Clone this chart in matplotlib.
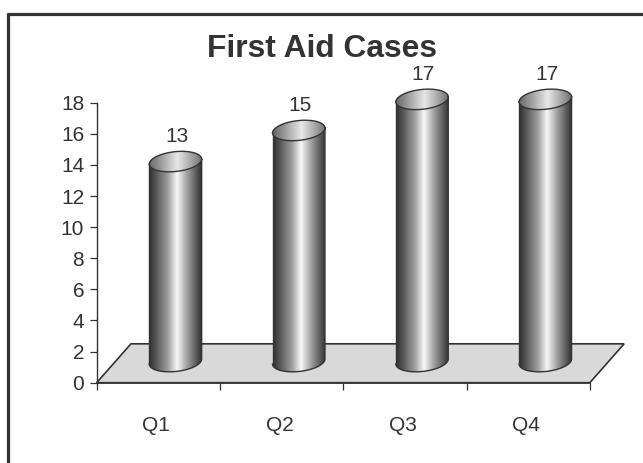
from matplotlib import pyplot as plt
from matplotlib.patches import PathPatch, Polygon
from matplotlib.path import Path
from matplotlib.colors import LinearSegmentedColormap
import numpy as np

quarters = ['Q1', 'Q2', 'Q3', 'Q4']
cases = [13, 15, 17, 17]
yTicks = list(range(0, 20, 2))

DARK = '#333333'
plt.rcParams['font.family'] = ['Liberation Sans', 'DejaVu Sans']

# cylinder shading, left to right across the width
bodyCmap = LinearSegmentedColormap.from_list('body', [
    (0.0, '#303030'), (0.15, '#5c5c5c'), (0.36, '#a0a0a0'), (0.53, '#f8f8f8'),
    (0.72, '#a0a0a0'), (0.92, '#505050'), (1.0, '#303030')])
capCmap = LinearSegmentedColormap.from_list('cap', [
    (0.0, '#666666'), (0.54, '#e8e8e8'), (1.0, '#707070')])


def ellipse(cx, cy, t):
    # tilted ellipse used for the ends of a cylinder
    x = cx + 0.2125 * np.cos(t)
    y = cy + 0.16 * np.cos(t) + 0.64 * np.sin(t)
    return x, y


def shaded(ax, verts, cmap, zorder):
    # fill a closed outline with a horizontal gradient
    closedVerts = np.vstack([verts, verts[:1]])
    patch = PathPatch(Path(closedVerts, closed=True), transform=ax.transData,
                      facecolor='none', edgecolor='none')
    ax.add_patch(patch)
    x0, x1 = verts[:, 0].min(), verts[:, 0].max()
    y0, y1 = verts[:, 1].min(), verts[:, 1].max()
    im = ax.imshow(np.linspace(0, 1, 256).reshape(1, -1), cmap=cmap, aspect='auto',
                   extent=(x0, x1, y0, y1), zorder=zorder, interpolation='bilinear')
    im.set_clip_path(patch)


fig = plt.figure(figsize=(6.43, 4.63), dpi=100)
ax = fig.add_axes([0, 0, 1, 1])

# floor of the 3d box
floor = Polygon([(0, 0), (4, 0), (4.278, 2.5), (0.278, 2.5)], closed=True,
                facecolor='#d9d9d9', edgecolor=DARK, linewidth=1.2, zorder=1)
ax.add_patch(floor)

# cylinders
for i, value in enumerate(cases):
    cx = i + 0.639
    base = 1.36
    top = value + 1.22

    t = np.linspace(np.pi, 2 * np.pi, 80)
    bx, by = ellipse(cx, base, t)
    rightTop = ellipse(cx, top, np.array([0.0]))
    leftTop = ellipse(cx, top, np.array([np.pi]))
    body = np.vstack([np.column_stack([bx, by]),
                      [[rightTop[0][0], rightTop[1][0]]],
                      [[leftTop[0][0], leftTop[1][0]]]])
    shaded(ax, body, bodyCmap, 2)
    ax.plot(body[:, 0], body[:, 1], color=DARK, linewidth=1.0, zorder=3)
    ax.plot(body[[-1, 0], 0], body[[-1, 0], 1], color=DARK, linewidth=1.0, zorder=3)

    tc = np.linspace(0, 2 * np.pi, 160)
    ex, ey = ellipse(cx, top, tc)
    shaded(ax, np.column_stack([ex, ey]), capCmap, 4)
    ax.plot(ex, ey, color=DARK, linewidth=1.0, zorder=5)

    # value above the cylinder
    ax.annotate(str(value), (cx + 0.01, ey.max()), xytext=(0, 6.5), textcoords='offset points',
                ha='center', va='baseline', fontsize=15, color=DARK, zorder=6)

# limits span the whole figure so the frame and labels can sit outside the plot box
ax.set_xlim(-0.784, 4.431)
ax.set_ylim(-5.164, 24.61)
ax.set_facecolor('white')

for side in ['top', 'right']:
    ax.spines[side].set_visible(False)
ax.spines['left'].set_position(('data', 0))
ax.spines['bottom'].set_position(('data', 0))
ax.spines['left'].set_bounds(0, 18)
ax.spines['bottom'].set_bounds(0, 4)
ax.spines['left'].set_color(DARK)
ax.spines['bottom'].set_color(DARK)
ax.spines['left'].set_linewidth(1.0)
ax.spines['bottom'].set_linewidth(1.2)
ax.spines['left'].set_zorder(7)
ax.spines['bottom'].set_zorder(7)

ax.set_yticks(yTicks)
ax.set_xticks(range(len(quarters) + 1))
ax.set_xticklabels([])
ax.tick_params(axis='both', direction='out', length=5, width=0.9, color=DARK)
ax.tick_params(axis='y', labelsize=15, labelcolor=DARK, pad=4)

for i, q in enumerate(quarters):
    ax.text(i + 0.483, -3.09, q, ha='center', va='baseline', fontsize=15, color=DARK)

ax.text(1.827, 20.94, 'First Aid Cases', ha='center', va='baseline', fontsize=22.9,
        fontweight='bold', color=DARK)

# frame lines along the top and left of the figure
ax.plot([-0.727, 4.431], [23.71, 23.71], color=DARK, linewidth=2.3, clip_on=False,
        solid_capstyle='butt')
ax.plot([-0.723, -0.723], [-5.164, 23.8], color=DARK, linewidth=2.3, clip_on=False,
        solid_capstyle='butt')

plt.savefig('out.png', dpi=100)
